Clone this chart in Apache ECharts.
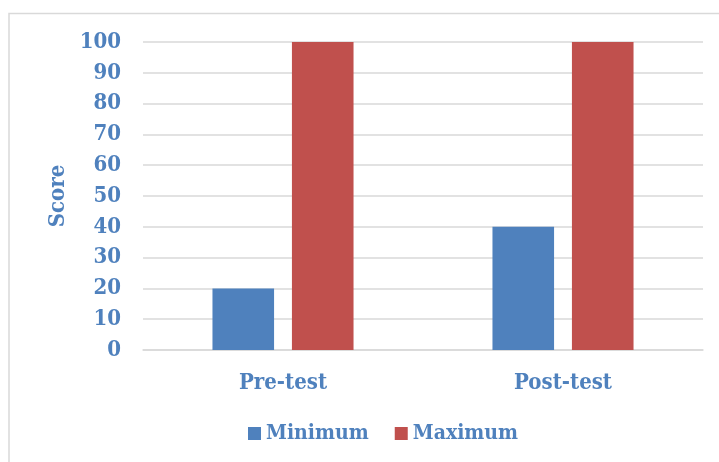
<!DOCTYPE html>
<html>
<head>
<meta charset="utf-8">
<script src="https://cdn.jsdelivr.net/npm/echarts@6/dist/echarts.min.js"></script>
<style>
  html, body { margin: 0; padding: 0; background: #fff; }
  #chart { width: 719px; height: 462px; }
</style>
</head>
<body>
<div id="chart"></div>
<script>
// 数据
var categories = ['Pre-test', 'Post-test'];
var minimumValues = [20, 40];
var maximumValues = [100, 100];

var textColor = '#4F81BD';
var fontFamily = '"DejaVu Serif Condensed", "DejaVu Serif", serif';

var myChart = echarts.init(document.getElementById('chart'));
var option = {
  backgroundColor: '#fff',
  animation: false,
  textStyle: { fontFamily: fontFamily },
  graphic: [
    { // 外框线
      type: 'polyline',
      shape: { points: [[9, 462], [9, 13.5], [719, 13.5]] },
      style: { stroke: '#D9D9D9', lineWidth: 1.5, fill: null },
      silent: true
    }
  ],
  grid: {
    left: 143,
    right: 16,
    top: 42,
    bottom: 112
  },
  legend: {
    bottom: 13,
    left: 243,
    itemWidth: 13,
    itemHeight: 13,
    itemGap: 26,
    icon: 'rect',
    textStyle: {
      color: textColor,
      fontSize: 21,
      fontWeight: 'bold',
      fontFamily: fontFamily
    },
    data: ['Minimum', 'Maximum']
  },
  xAxis: {
    type: 'category',
    data: categories,
    axisTick: { show: false },
    axisLine: { lineStyle: { color: '#D9D9D9', width: 1.5 } },
    axisLabel: {
      color: textColor,
      fontSize: 22,
      fontWeight: 'bold',
      margin: 22,
      fontFamily: fontFamily
    }
  },
  yAxis: {
    type: 'value',
    min: 0,
    max: 100,
    interval: 10,
    name: 'Score',
    nameLocation: 'middle',
    nameGap: 72,
    nameRotate: 90,
    nameTextStyle: {
      color: textColor,
      fontSize: 22,
      fontWeight: 'bold',
      fontFamily: fontFamily
    },
    axisLine: { show: false },
    axisTick: { show: false },
    axisLabel: {
      color: textColor,
      fontSize: 22,
      fontWeight: 'bold',
      margin: 22,
      fontFamily: fontFamily
    },
    splitLine: { lineStyle: { color: '#D9D9D9', width: 1.5 } }
  },
  series: [
    {
      name: 'Minimum',
      type: 'bar',
      data: minimumValues,
      barWidth: '22%',
      barGap: '29%',
      itemStyle: { color: '#4F81BD' }
    },
    {
      name: 'Maximum',
      type: 'bar',
      data: maximumValues,
      barWidth: '22%',
      itemStyle: { color: '#C0504D' }
    }
  ]
};
myChart.setOption(option);
</script>
</body>
</html>
